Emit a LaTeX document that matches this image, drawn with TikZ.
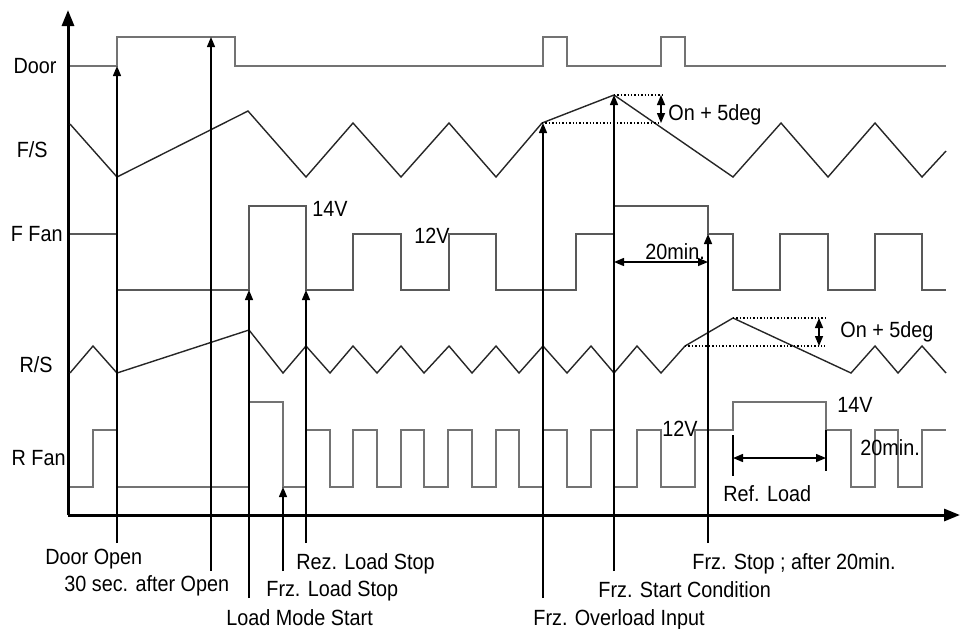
\documentclass[tikz,border=0pt]{standalone}
\usepackage{fontspec}
\setmainfont{Liberation Sans}[FakeStretch=0.9]
\usetikzlibrary{arrows.meta}

\begin{document}
\begin{tikzpicture}[
  x=0.5pt, y=-0.5pt,
  every node/.style={font=\fontsize{11}{13}\selectfont, inner sep=0pt},
  lbl/.style={anchor=base west},
  signame/.style={anchor=base east},
  axis/.style={line width=1.5pt, -{Triangle[length=8pt,width=6pt]}},
  door/.style={black!55, line width=0.8pt},
  wave/.style={black!85, line width=0.7pt},
  fan/.style={black!65, line width=0.8pt},
  event/.style={line width=0.7pt, -{Triangle[length=5pt,width=4pt]}},
  span/.style={line width=0.7pt, {Triangle[length=5pt,width=4pt]}-{Triangle[length=5pt,width=4pt]}},
  guide/.style={densely dotted, line width=0.7pt}
]
\useasboundingbox (0,0) rectangle (961,628);

% Axes
\coordinate (origin) at (68,515);
\coordinate (ytop) at (68,10);
\coordinate (xend) at (960,515);
\draw [axis] (origin) -- (ytop);
\draw [axis] (origin) -- (xend);

% Signal names
\node (door) [signame] at (57,73) {Door};
\node (fs) [signame] at (48,157) {F/S};
\node (ffan) [signame] at (63,241) {F Fan};
\node (rs) [signame] at (53,372) {R/S};
\node (rfan) [signame] at (66,465) {R Fan};

% Door
\draw [door] (70,66) -- (117,66) -- (117,37) -- (235,37) -- (235,66) -- (543,66)
  -- (543,37) -- (567,37) -- (567,66) -- (661,66) -- (661,37) -- (685,37) -- (685,66) -- (946,66);

% F/S
\draw [wave] (70,124) -- (117,177) -- (248,111) -- (306,177) -- (353,123) -- (401,177)
  -- (449,123) -- (496,177) -- (542,123) -- (614,95) -- (733,177) -- (781,123)
  -- (828,177) -- (875,123) -- (922,177) -- (946,151);

% F Fan
\draw [fan] (70,234) -- (117,234) -- (117,290) -- (249,290) -- (249,206) -- (306,206)
  -- (306,290) -- (353,290) -- (353,234) -- (401,234) -- (401,290) -- (449,290)
  -- (449,234) -- (496,234) -- (496,290) -- (576,290) -- (576,234) -- (614,234)
  -- (614,206) -- (708,206) -- (708,234) -- (733,234) -- (733,290) -- (780,290)
  -- (780,234) -- (828,234) -- (828,290) -- (875,290) -- (875,234) -- (922,234)
  -- (922,290) -- (946,290);

% R/S
\draw [wave] (70,373) -- (93,346) -- (117,373) -- (249,330) -- (283,373) -- (306,346)
  -- (330,373) -- (353,346) -- (377,373) -- (401,346) -- (424,373) -- (449,346)
  -- (472,373) -- (496,346) -- (519,373) -- (543,346) -- (567,373) -- (591,346)
  -- (614,373) -- (637,346) -- (661,373) -- (685,346) -- (733,318) -- (851,373)
  -- (875,346) -- (898,373) -- (922,346) -- (946,373);

% R Fan
\draw [fan, black!55] (70,487) -- (93,487) -- (93,430) -- (117,430) -- (117,487) -- (249,487)
  -- (249,402) -- (283,402) -- (283,487) -- (306,487) -- (306,430) -- (330,430)
  -- (330,487) -- (353,487) -- (353,430) -- (377,430) -- (377,487) -- (401,487)
  -- (401,430) -- (424,430) -- (424,487) -- (448,487) -- (448,430) -- (472,430)
  -- (472,487) -- (496,487) -- (496,430) -- (519,430) -- (519,487) -- (543,487)
  -- (543,430) -- (567,430) -- (567,487) -- (591,487) -- (591,430) -- (614,430)
  -- (614,487) -- (637,487) -- (637,430) -- (661,430) -- (661,487) -- (695,487)
  -- (695,430) -- (733,430) -- (733,402) -- (826,402) -- (826,430) -- (851,430)
  -- (851,487) -- (875,487) -- (875,430) -- (898,430) -- (898,487) -- (922,487)
  -- (922,430) -- (946,430);

% Levels
\node (f14) [lbl] at (312,216) {14V};
\node (f12) [lbl] at (414,243) {12V};
\node (r12) [lbl] at (662,436) {12V};
\node (r14) [lbl] at (837,412) {14V};

% On + 5deg marks
\coordinate (fsTop) at (614,95);
\coordinate (fsLow) at (542,123);
\coordinate (fsTopEnd) at (662,95);
\coordinate (fsLowEnd) at (660,123);
\draw [guide] (fsTop) -- (fsTopEnd);
\draw [guide] (fsLow) -- (fsLowEnd);
\coordinate (fsA) at (661,95);
\coordinate (fsB) at (661,123);
\draw [span] (fsA) -- (fsB);
\node (fsDeg) [lbl] at (668,120) {On + 5deg};

\coordinate (rsTop) at (733,318);
\coordinate (rsLow) at (685,346);
\coordinate (rsTopEnd) at (828,318);
\coordinate (rsLowEnd) at (825,346);
\draw [guide] (rsTop) -- (rsTopEnd);
\draw [guide] (rsLow) -- (rsLowEnd);
\coordinate (rsA) at (819,318);
\coordinate (rsB) at (819,346);
\draw [span] (rsA) -- (rsB);
\node (rsDeg) [lbl] at (840,337) {On + 5deg};

% 20 min spans
\coordinate (fminA) at (614,262);
\coordinate (fminB) at (708,262);
\draw [span] (fminA) -- (fminB);
\node (fmin) [lbl] at (645,259) {20min.};

\coordinate (refA) at (733,458);
\coordinate (refB) at (826,458);
\draw [line width=0.7pt] (733,435) -- (733,476);
\draw [line width=0.7pt] (826,430) -- (826,471);
\draw [span] (refA) -- (refB);
\node (ref) [lbl] at (723,501) {Ref. Load};
\node (rmin) [lbl] at (860,455) {20min.};

% Events
\node (open) [lbl] at (45,564) {Door Open};
\node (after) [lbl] at (64,591) {30 sec. after Open};
\node (rezstop) [lbl] at (296,569) {Rez. Load Stop};
\node (frzstop) [lbl] at (266,596) {Frz. Load Stop};
\node (loadstart) [lbl] at (226,625) {Load Mode Start};
\node (overload) [lbl] at (533,625) {Frz. Overload Input};
\node (startcond) [lbl] at (598,597) {Frz. Start Condition};
\node (stop20) [lbl] at (692,569) {Frz. Stop ; after 20min.};

\draw [event] (117,543) -- (117,66);
\draw [event] (211,571) -- (211,37);
\draw [event] (249,598) -- (249,290);
\draw [event] (283,571) -- (283,487);
\draw [event] (306,543) -- (306,290);
\draw [event] (543,598) -- (543,123);
\draw [event] (614,571) -- (614,95);
\draw [event] (708,543) -- (708,234);

\end{tikzpicture}
\end{document}
